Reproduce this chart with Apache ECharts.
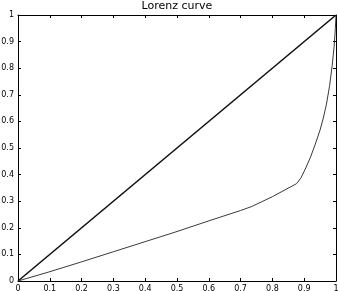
<!DOCTYPE html>
<html><head><meta charset="utf-8">
<script src="https://cdn.jsdelivr.net/npm/echarts@6/dist/echarts.min.js"></script>
<style>html,body{margin:0;padding:0;background:#fff}#c{width:338px;height:291px}</style>
</head><body><div id="c"></div>
<script>
const titleText = "Lorenz curve";
const equalityX = [0, 1];
const equalityY = [0, 1];
const lorenzX = [0, 0.1, 0.2, 0.3, 0.4, 0.5, 0.6, 0.7, 0.735, 0.8, 0.876, 0.89, 0.905, 0.92, 0.935, 0.95, 0.96, 0.97, 0.98, 0.988, 0.994, 0.998, 1];
const lorenzY = [0, 0.035, 0.072, 0.11, 0.148, 0.186, 0.226, 0.265, 0.28, 0.317, 0.366, 0.388, 0.425, 0.466, 0.515, 0.568, 0.612, 0.665, 0.735, 0.81, 0.88, 0.95, 1];

const chart = echarts.init(document.getElementById('c'), null, {renderer: 'canvas'});
const font = 'DejaVu Sans, sans-serif';
function axisBase(pos, showLabel) {
  return {
    type: 'value', min: 0, max: 1, interval: 0.1, position: pos,
    axisLine: {show: true, onZero: false, lineStyle: {color: '#000', width: 1}},
    axisTick: {show: true, inside: true, length: 3, lineStyle: {color: '#000'}},
    splitLine: {show: false},
    axisLabel: {show: showLabel, fontSize: 8, color: '#000', fontFamily: font, margin: 4}
  };
}
chart.setOption({
  animation: false,
  title: {text: titleText, left: 177, top: 0, padding: [1, 0, 0, 0], textAlign: 'center',
    textStyle: {fontSize: 11, fontWeight: 'normal', color: '#000', fontFamily: font}},
  grid: {left: 18, right: 2, top: 15, bottom: 10, containLabel: false, outerBoundsMode: 'none'},
  xAxis: [axisBase('bottom', true), axisBase('top', false)],
  yAxis: [axisBase('left', true), axisBase('right', false)],
  series: [
    {type: 'line', data: equalityX.map((x, i) => [x, equalityY[i]]), showSymbol: false,
      lineStyle: {color: '#111', width: 1.6}},
    {type: 'line', data: lorenzX.map((x, i) => [x, lorenzY[i]]), showSymbol: false,
      lineStyle: {color: '#222', width: 0.9}}
  ]
});
</script></body></html>
